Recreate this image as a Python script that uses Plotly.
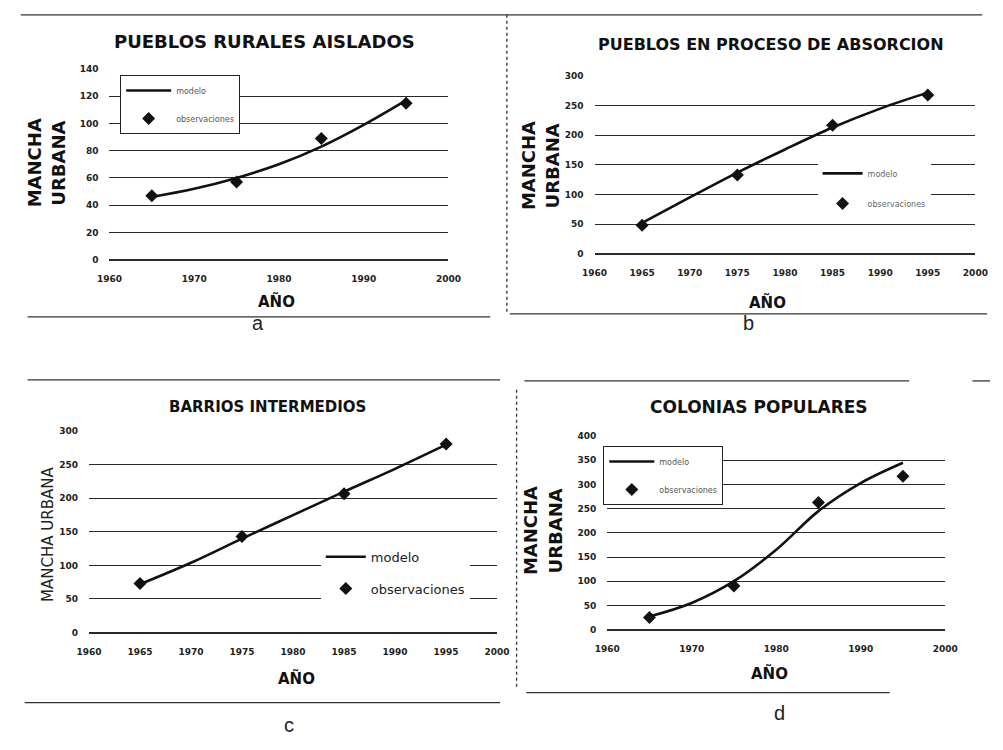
import plotly.graph_objects as go

# ---------------- data ----------------
obs_years = [1965, 1975, 1985, 1995]
model_years = [1965, 1970, 1975, 1980, 1985, 1990, 1995]

a_obs = [47, 57, 89, 115]
a_model = [46, 52, 60, 70, 83, 99, 117]

b_obs = [48, 133, 217, 268]
b_model = [52, 95, 137, 176, 213, 245, 272]

c_obs = [73, 143, 207, 281]
c_model = [72, 104, 140, 175, 210, 244, 280]

d_obs = [25, 90, 263, 317]
d_model = [27, 55, 100, 165, 245, 303, 345]

titles = ["PUEBLOS RURALES AISLADOS", "PUEBLOS EN PROCESO DE ABSORCION",
          "BARRIOS INTERMEDIOS", "COLONIAS POPULARES"]
captions = ["a", "b", "c", "d"]
series_names = ["modelo", "observaciones"]

W, H = 1003, 750


def px_x(p):
    return p / W


def px_y(p):
    return 1 - p / H


fig = go.Figure()

panels = [
    # (model, obs, x-range, x-dtick, y-range, y-dtick, plot box px (x0,x1,ytop,ybottom))
    (a_model, a_obs, [1960, 2000], 10, [0, 140], 20, (99, 447, 65, 258)),
    (b_model, b_obs, [1960, 2000], 5, [0, 300], 50, (597, 988, 72, 252)),
    (c_model, c_obs, [1960, 2000], 5, [0, 300], 50, (78, 497, 432, 636)),
    (d_model, d_obs, [1960, 2000], 10, [0, 400], 50, (610, 957, 437, 633)),
]

legend_specs = [
    dict(x=px_x(110), y=px_y(71), font=dict(size=8, color="#555"), borderwidth=1,
         bordercolor="#222", bgcolor="white", tracegroupgap=9, itemwidth=45),
    dict(x=px_x(826), y=px_y(156), font=dict(size=8, color="#666"), borderwidth=0,
         bgcolor="white", tracegroupgap=11, itemwidth=40),
    dict(x=px_x(316), y=px_y(544), font=dict(size=13, color="#222"), borderwidth=0,
         bgcolor="white", tracegroupgap=12, itemwidth=40),
    dict(x=px_x(606), y=px_y(447), font=dict(size=8, color="#555"), borderwidth=1,
         bordercolor="#222", bgcolor="white", tracegroupgap=9, itemwidth=45),
]

tickfont = dict(size=9, color="#222", family="DejaVu Sans", weight="bold")

layout_axes = {}
for i, (model, obs, xr, xd, yr, yd, box) in enumerate(panels):
    k = "" if i == 0 else str(i + 1)
    lg = "legend" if i == 0 else "legend" + str(i + 1)
    fig.add_trace(go.Scatter(
        x=model_years, y=model, mode="lines", name=series_names[0],
        legendgroup="m" + k,
        line=dict(color="#111", width=2.6, shape="spline", smoothing=1.0),
        xaxis="x" + k, yaxis="y" + k, legend=lg))
    fig.add_trace(go.Scatter(
        x=obs_years, y=obs, mode="markers", name=series_names[1],
        legendgroup="o" + k,
        marker=dict(symbol="diamond", color="#111", size=10),
        xaxis="x" + k, yaxis="y" + k, legend=lg))
    x0, x1, yt, yb = box
    layout_axes["xaxis" + k] = dict(
        domain=[px_x(x0), px_x(x1)], range=xr, dtick=xd, tick0=1960,
        showgrid=False, zeroline=False, showline=False, anchor="y" + k,
        tickfont=tickfont, ticks="", ticklabelstandoff=12, fixedrange=True)
    layout_axes["yaxis" + k] = dict(
        domain=[px_y(yb), px_y(yt)], range=yr, dtick=yd,
        showgrid=True, gridcolor="#2a2a2a", gridwidth=1.4,
        zeroline=True, zerolinecolor="#2a2a2a", zerolinewidth=1.6,
        showline=False, anchor="x" + k,
        tickfont=tickfont, ticks="", ticklabelstandoff=10, fixedrange=True)
    spec = dict(legend_specs[i])
    spec.update(xanchor="left", yanchor="top", traceorder="grouped")
    layout_axes["legend" if i == 0 else "legend" + str(i + 1)] = spec

fig.update_layout(**layout_axes)

ann = []
title_pos = [(258, 37, 18), (778, 40, 16), (261, 407, 15), (766, 407, 17)]
for t, (x, y, s) in zip(titles, title_pos):
    ann.append(dict(text="<b>" + t + "</b>", x=px_x(x), y=px_y(y), xref="paper", yref="paper",
                    showarrow=False, xanchor="center", yanchor="middle",
                    font=dict(size=s, color="#111", family="DejaVu Sans")))

# y-axis titles
for (xm, xu, yc) in [(22, 47, 160), (530, 554, 163), (532, 557, 533)]:
    ann.append(dict(text="<b>MANCHA</b>", x=px_x(xm), y=px_y(yc), xref="paper", yref="paper",
                    showarrow=False, textangle=-90, xanchor="center", yanchor="middle",
                    font=dict(size=18, color="#111", family="DejaVu Sans")))
    ann.append(dict(text="<b>URBANA</b>", x=px_x(xu), y=px_y(yc), xref="paper", yref="paper",
                    showarrow=False, textangle=-90, xanchor="center", yanchor="middle",
                    font=dict(size=18, color="#111", family="DejaVu Sans")))
ann.append(dict(text="MANCHA URBANA", x=px_x(36), y=px_y(537), xref="paper", yref="paper",
                showarrow=False, textangle=-90, xanchor="center", yanchor="middle",
                font=dict(size=15, color="#222", family="DejaVu Sans")))

# x-axis titles
for (x, y) in [(270, 300), (775, 302), (291, 683), (777, 678)]:
    ann.append(dict(text="<b>AÑO</b>", x=px_x(x), y=px_y(y), xref="paper", yref="paper",
                    showarrow=False, xanchor="center", yanchor="middle",
                    font=dict(size=15, color="#111", family="DejaVu Sans")))

# captions
for c, (x, y) in zip(captions, [(252, 322), (755, 322), (283, 730), (787, 718)]):
    ann.append(dict(text=c, x=px_x(x), y=px_y(y), xref="paper", yref="paper",
                    showarrow=False, xanchor="center", yanchor="middle",
                    font=dict(size=20, color="#222", family="Liberation Sans")))

# frame lines from the scanned page
frame = [
    (8, 10, 995, 10), (15, 316, 490, 316), (510, 313, 1000, 313),
    (507, 10, 507, 313), (15, 380, 500, 380), (12, 707, 500, 707),
    (525, 381, 920, 381), (985, 381, 1003, 381), (527, 697, 900, 697),
    (517, 390, 517, 693),
]
shapes = []
for (x0, y0, x1, y1) in frame:
    shapes.append(dict(type="line", xref="paper", yref="paper",
                       x0=px_x(x0), y0=px_y(y0), x1=px_x(x1), y1=px_y(y1),
                       line=dict(color="#333", width=1.3,
                                 dash="dot" if x0 == x1 else "solid")))

fig.update_layout(
    width=W, height=H, autosize=False,
    margin=dict(l=0, r=0, t=0, b=0),
    paper_bgcolor="white", plot_bgcolor="white",
    annotations=ann, shapes=shapes,
    font=dict(family="DejaVu Sans"),
)

fig.write_html("out.html")
